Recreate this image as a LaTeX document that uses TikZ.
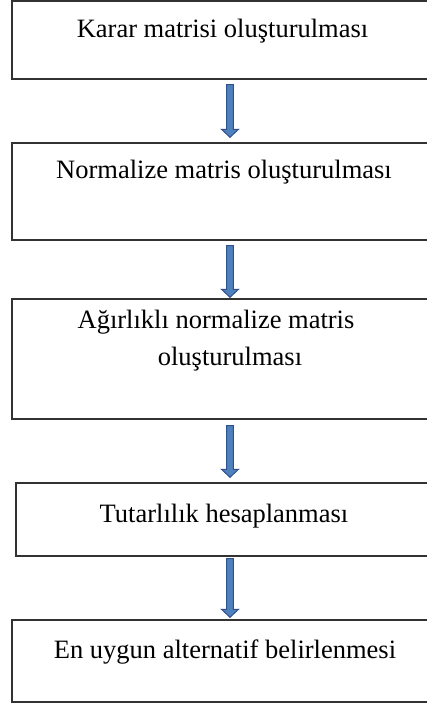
\documentclass[tikz,border=0pt]{standalone}
\usepackage{fontspec}
\setmainfont{Liberation Serif}
\usetikzlibrary{calc}
\definecolor{arrowfill}{RGB}{79,129,189}
\definecolor{arrowline}{RGB}{47,82,143}
\definecolor{boxline}{RGB}{50,50,50}
\tikzset{
  box/.style={draw=boxline, line width=1.4pt, rectangle, inner sep=0pt},
  label text/.style={anchor=base, inner sep=0pt, font=\fontsize{26.5}{32}\selectfont},
  blockarrow/.style={fill=arrowfill, draw=arrowline, line width=1pt, line join=miter}
}
\newcommand\flowarrow[2]{%
  \filldraw[blockarrow] ($(#1)+(-3.3,0)$) -- ($(#2)+(-3.3,-8)$) -- ($(#2)+(-8.5,-8)$) -- (#2)
    -- ($(#2)+(8.5,-8)$) -- ($(#2)+(3.3,-8)$) -- ($(#1)+(3.3,0)$) -- cycle;}
\begin{document}
\begin{tikzpicture}[x=1pt,y=-1pt]
\useasboundingbox (0,0) rectangle (427,704);
\node[box, minimum width=420pt, minimum height=78pt] (b1) at (222,40) {};
\node[box, minimum width=420pt, minimum height=97pt] (b2) at (222,191.5) {};
\node[box, minimum width=420pt, minimum height=120pt] (b3) at (222,359) {};
\node[box, minimum width=416pt, minimum height=73pt] (b4) at (224,519.5) {};
\node[box, minimum width=420pt, minimum height=82pt] (b5) at (222,661) {};
\node[label text] (t1) at (222.5,37) {Karar matrisi oluşturulması};
\node[label text] (t2) at (224,178) {Normalize matris oluşturulması};
\node[label text] (t3a) at (216,328) {Ağırlıklı normalize matris};
\node[label text] (t3b) at (230,365) {oluşturulması};
\node[label text] (t4) at (224,522) {Tutarlılık hesaplanması};
\node[label text] (t5) at (225,658) {En uygun alternatif belirlenmesi};
\coordinate (s1) at ($(b1.south)+(8,5)$);
\coordinate (e1) at ($(b2.north)+(8,-5)$);
\coordinate (s2) at ($(b2.south)+(8,5)$);
\coordinate (e2) at ($(b3.north)+(8,-1)$);
\coordinate (s3) at ($(b3.south)+(8,6)$);
\coordinate (e3) at ($(b4.north)+(6,-5)$);
\coordinate (s4) at ($(b4.south)+(6,2)$);
\coordinate (e4) at ($(b5.north)+(8,-2)$);
\flowarrow{s1}{e1}
\flowarrow{s2}{e2}
\flowarrow{s3}{e3}
\flowarrow{s4}{e4}
\end{tikzpicture}
\end{document}
